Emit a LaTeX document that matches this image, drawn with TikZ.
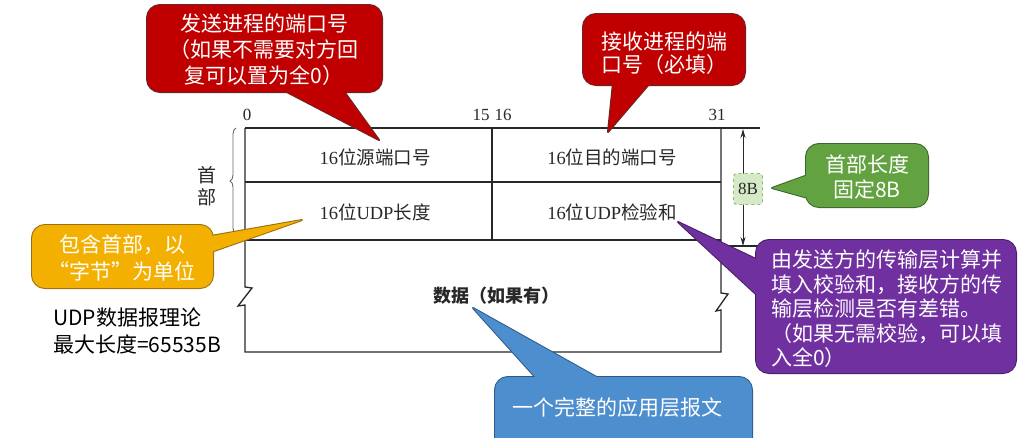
\documentclass[tikz,border=0pt]{standalone}
\usepackage{fontspec}
\setmainfont{Liberation Serif}
\newfontfamily\cjk{Noto Sans CJK SC}
\usetikzlibrary{arrows.meta,decorations.pathreplacing}
\definecolor{cred}{RGB}{192,0,0}
\definecolor{bred}{RGB}{100,40,40}
\definecolor{cgreen}{RGB}{98,162,64}
\definecolor{bgreen}{RGB}{60,100,45}
\definecolor{cyellow}{RGB}{244,176,0}
\definecolor{byellow}{RGB}{150,110,20}
\definecolor{cblue}{RGB}{77,143,206}
\definecolor{bblue}{RGB}{45,90,135}
\definecolor{cpurple}{RGB}{112,48,160}
\definecolor{bpurple}{RGB}{70,30,100}
\definecolor{lgreen}{RGB}{214,234,200}
\definecolor{dgreen}{RGB}{140,190,110}
\definecolor{tblk}{RGB}{40,40,40}
\newcommand\callshape[7]{%
  \draw[#2, line width=2pt, line join=round, rounded corners=13pt] #3 rectangle #4;
  \draw[#2, line width=2pt, line join=round] #5 -- #6 -- #7 -- cycle;
  \fill[#1, rounded corners=13pt] #3 rectangle #4;
  \fill[#1] #5 -- #6 -- #7 -- cycle;
}
\tikzset{
  tline/.style={draw=tblk, line width=1.3pt},
  ctext/.style={text=white, font=\cjk\fontsize{21}{26}\selectfont, align=center, inner sep=0pt},
  celltext/.style={text=tblk, font=\fontsize{18.5}{22}\selectfont, inner sep=0pt},
  numtext/.style={text=tblk, font=\fontsize{17}{20}\selectfont, inner sep=0pt},
}
\begin{document}
\begin{tikzpicture}[x=1pt,y=-1pt]
\useasboundingbox (0,0) rectangle (1024,437);
\fill[white] (0,0) rectangle (1024,437);

% table
\draw[tline] (245,128) -- (760,128);
\draw[tline] (245,182) -- (721,182);
\draw[tline] (245,240) -- (721,240);
\draw[tline] (721,246) -- (760,246);
\draw[tline] (492,128) -- (492,240);
\draw[tline, line join=miter] (245,128) -- (245,287) -- (252,288) -- (238,306) -- (245,305) -- (245,352)
  -- (721,352) -- (721,310) -- (716,311) -- (728,294) -- (721,293) -- (721,128);

% brace
\draw[draw=black!60, line width=0.9pt, decorate, decoration={brace, amplitude=6pt}] (236,234) -- (236,128);
\node[text=tblk, font=\cjk\fontsize{19}{22}\selectfont, align=center, inner sep=0pt] (hdr) at (207,186) {首\\部};

% bit numbers
\node[numtext] (b0) at (247,115) {0};
\node[numtext] (b15) at (481,115) {15};
\node[numtext] (b16) at (503,115) {16};
\node[numtext] (b31) at (717,115) {31};

% cell texts
\node[celltext] (src) at (375,157) {16{\cjk 位源端口号}};
\node[celltext] (dst) at (612,157) {16{\cjk 位目的端口号}};
\node[celltext] (len) at (375,212) {16{\cjk 位}UDP{\cjk 长度}};
\node[celltext] (chk) at (612,212) {16{\cjk 位}UDP{\cjk 检验和}};
\node[celltext, font=\cjk\bfseries\fontsize{18}{22}\selectfont] (data) at (496,296) {数据（如果有）};

% dimension arrow
\coordinate (dtop) at (743,129);
\coordinate (dbot) at (743,246);
\draw[draw=tblk, line width=1pt, {Stealth[length=9pt,width=5pt]}-{Stealth[length=9pt,width=5pt]}] (dtop) -- (dbot);
\node[draw=dgreen, dashed, fill=lgreen, rounded corners=3pt, line width=0.9pt, minimum width=29pt, minimum height=31pt, inner sep=0pt, text=tblk, font=\fontsize{17}{20}\selectfont] (eightb) at (748,189) {8B};

% callouts
\callshape{cred}{bred}{(147,5)}{(382,92)}{(283,90)}{(343,90)}{(379,140)}
\node[ctext] (t1) at (264,50) {发送进程的端口号\\（如果不需要对方回\\复可以置为全0）};

\callshape{cred}{bred}{(583,14)}{(745,85)}{(613,83)}{(650,83)}{(608,132)}
\node[ctext, font=\cjk\fontsize{21}{23}\selectfont] (t2) at (664,53) {接收进程的端\\口号（必填）};

\callshape{cgreen}{bgreen}{(806,144)}{(928,207)}{(808,175)}{(808,198)}{(772,188)}
\node[ctext, font=\cjk\fontsize{21}{25}\selectfont] (t3) at (867,177) {首部长度\\固定8B};

\callshape{cyellow}{byellow}{(32,225)}{(213,288)}{(211,236)}{(211,252)}{(302,220)}
\node[ctext, font=\cjk\fontsize{21}{27}\selectfont] (t4) at (122,258) {包含首部，以\\“字节”为单位};

\callshape{cpurple}{bpurple}{(756,240)}{(1016,373)}{(758,260)}{(758,296)}{(678,222)}
\node[ctext, align=left, anchor=west, font=\cjk\fontsize{21}{24.5}\selectfont] (t5) at (771,309)
  {由发送方的传输层计算并\\填入校验和，接收方的传\\输层检测是否有差错。\\（如果无需校验，可以填\\入全0）};

\callshape{cblue}{bblue}{(495,377)}{(752,460)}{(537,379)}{(600,379)}{(473,308)}
\node[ctext] (t6) at (617,408) {一个完整的应用层报文};

% note
\node[text=black, font=\cjk\fontsize{21}{27}\selectfont, align=left, anchor=west, inner sep=0pt] (note) at (53,331) {UDP数据报理论\\最大长度=65535B};
\end{tikzpicture}
\end{document}
